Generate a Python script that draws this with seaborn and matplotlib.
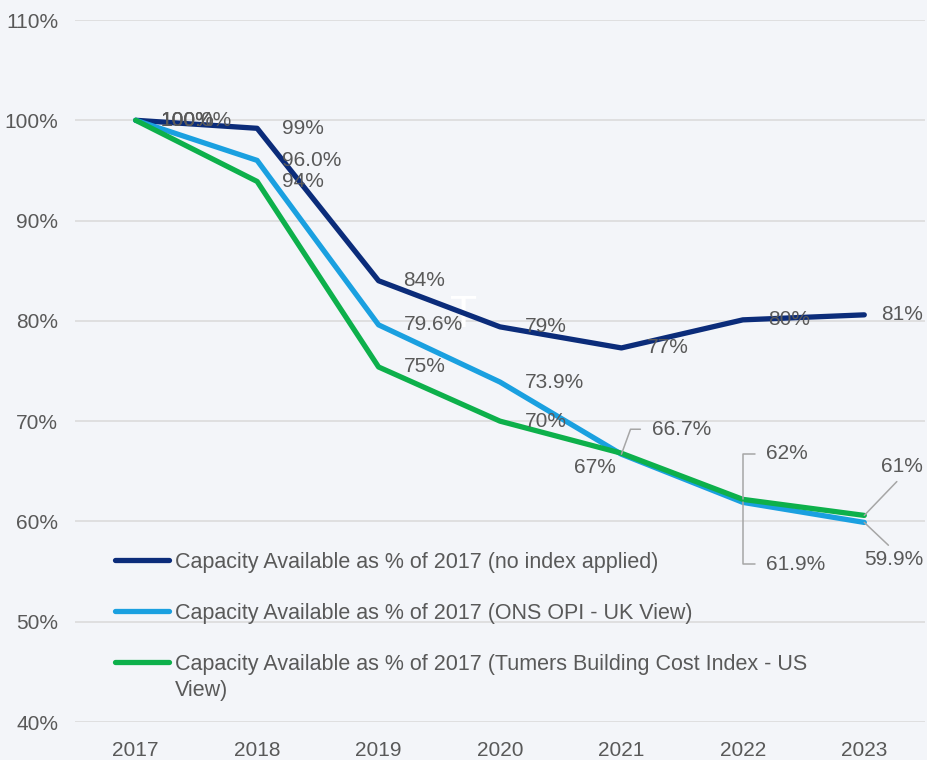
import matplotlib
matplotlib.use("Agg")
import matplotlib.pyplot as plt
from matplotlib.lines import Line2D
import seaborn as sns
import pandas as pd

# ---------------- data ----------------
years = ["2017", "2018", "2019", "2020", "2021", "2022", "2023"]
no_index = [100.0, 99.2, 84.0, 79.4, 77.3, 80.1, 80.6]
ons_opi = [100.0, 96.0, 79.6, 73.9, 66.7, 61.9, 59.9]
turners = [100.0, 93.9, 75.4, 70.0, 66.8, 62.2, 60.6]

no_index_labels = ["100%", "99%", "84%", "79%", "77%", "80%", "81%"]
ons_labels = ["100.0%", "96.0%", "79.6%", "73.9%", "66.7%", "61.9%", "59.9%"]
turners_labels = ["100%", "94%", "75%", "70%", "67%", "62%", "61%"]

series_names = [
    "Capacity Available as % of 2017 (no index applied)",
    "Capacity Available as % of 2017 (ONS OPI - UK View)",
    "Capacity Available as % of 2017 (Tumers Building Cost Index - US View)",
]
legend_first_lines = [
    "Capacity Available as % of 2017 (no index applied)",
    "Capacity Available as % of 2017 (ONS OPI - UK View)",
    "Capacity Available as % of 2017 (Tumers Building Cost Index - US",
]
legend_wrap = "View)"
y_ticks = [40, 50, 60, 70, 80, 90, 100, 110]

colors = ["#0B2C7A", "#1AA0E0", "#0DB04B"]
BG = "#F3F5F9"
TXT = "#595959"
GRID = "#D9D9D9"
LEAD = "#A6A6A6"
FS = 15
LFS = 15.5

# ---------------- frame ----------------
sns.set_theme(style="white")
plt.rcParams["font.family"] = ["Liberation Sans", "DejaVu Sans"]

rows = []
for name, vals in zip(series_names, [no_index, ons_opi, turners]):
    for y, v in zip(years, vals):
        rows.append({"Year": y, "Value": v, "Series": name})
df = pd.DataFrame(rows)

fig = plt.figure(figsize=(9.27, 7.6), dpi=100, facecolor=BG)
ax = fig.add_axes([75 / 927, 38 / 760, 850 / 927, 702 / 760])
ax.set_facecolor(BG)

# decorative white glyph seen in the reference
ax.text(464 / 927, 1 - 316 / 760, "T", transform=fig.transFigure, color="white",
        fontsize=32, ha="center", va="center", zorder=1.5)

sns.lineplot(data=df, x="Year", y="Value", hue="Series", hue_order=series_names,
             palette=colors, linewidth=3.8, ax=ax, legend=False, sort=False,
             zorder=2)
for ln in ax.get_lines():
    ln.set_solid_capstyle("round")
    ln.set_solid_joinstyle("round")

ax.set_xlim(-0.5, 6.5)
ax.set_ylim(40, 110)
ax.set_yticks(y_ticks)
ax.set_yticklabels([f"{t}%" for t in y_ticks])
ax.set_xlabel("")
ax.set_ylabel("")
ax.yaxis.grid(True, color=GRID, linewidth=1.1)
ax.xaxis.grid(False)
ax.set_axisbelow(True)
for s in ax.spines.values():
    s.set_visible(False)
ax.tick_params(axis="both", length=0, labelsize=FS, labelcolor=TXT)
ax.tick_params(axis="y", pad=12)
ax.tick_params(axis="x", pad=14)

# ---------------- data labels ----------------
def lab(i, v, text, dx=18, dy=0, ha="left", lead=None):
    kw = {}
    if lead is not None:
        kw["arrowprops"] = dict(arrowstyle="-", color=LEAD, lw=1.1,
                                shrinkA=lead.get("shrinkA", 2), shrinkB=0,
                                relpos=lead.get("relpos", (0, 0.5)),
                                connectionstyle=lead.get("cs", "arc3"))
    ax.annotate(text, xy=(i, v), xytext=(dx, dy), textcoords="offset points",
                ha=ha, va="center", fontsize=FS, color=TXT, zorder=5, **kw)

for i, (v, t) in enumerate(zip(no_index, no_index_labels)):
    if i == 6:
        lab(i, v, t, dx=12)
    else:
        lab(i, v, t)

for i, (v, t) in enumerate(zip(ons_opi, ons_labels)):
    if i == 4:
        lab(i, v, t, dx=22, dy=18, lead={"cs": "angle,angleA=0,angleB=70,rad=0", "shrinkA": 6})
    elif i == 5:
        lab(i, v, t, dx=17, dy=-44.5, lead={"cs": "angle,angleA=0,angleB=90,rad=0", "shrinkA": 6})
    elif i == 6:
        lab(i, v, t, dx=0, dy=-27, lead={"relpos": (0.5, 1)})
    else:
        lab(i, v, t)

for i, (v, t) in enumerate(zip(turners, turners_labels)):
    if i == 4:
        lab(i, v, t, dx=-4, dy=-10, ha="right")
    elif i == 5:
        lab(i, v, t, dx=17, dy=33, lead={"cs": "angle,angleA=0,angleB=90,rad=0", "shrinkA": 6})
    elif i == 6:
        lab(i, v, t, dx=12, dy=35, lead={"relpos": (0.5, 0)})
    else:
        lab(i, v, t)

# ---------------- legend ----------------
handles = [Line2D([0], [0], color=c, lw=3.8, solid_capstyle="round") for c in colors]
leg = ax.legend(handles, legend_first_lines, loc="upper left",
                bbox_to_anchor=(40 / 850, (722 - 552) / 702), frameon=False,
                handlelength=2.5, handletextpad=0.3, labelspacing=1.39,
                borderpad=0, borderaxespad=0, fontsize=LFS, labelcolor=TXT)

# wrapped continuation of the third legend entry
fig.canvas.draw()
bb = leg.get_texts()[2].get_window_extent()
W, H = fig.bbox.width, fig.bbox.height
fig.text(bb.x0 / W, (0.5 * (bb.y0 + bb.y1) - 26) / H, legend_wrap,
         ha="left", va="center", fontsize=LFS, color=TXT)

fig.savefig("out.png", dpi=100, facecolor=BG)
